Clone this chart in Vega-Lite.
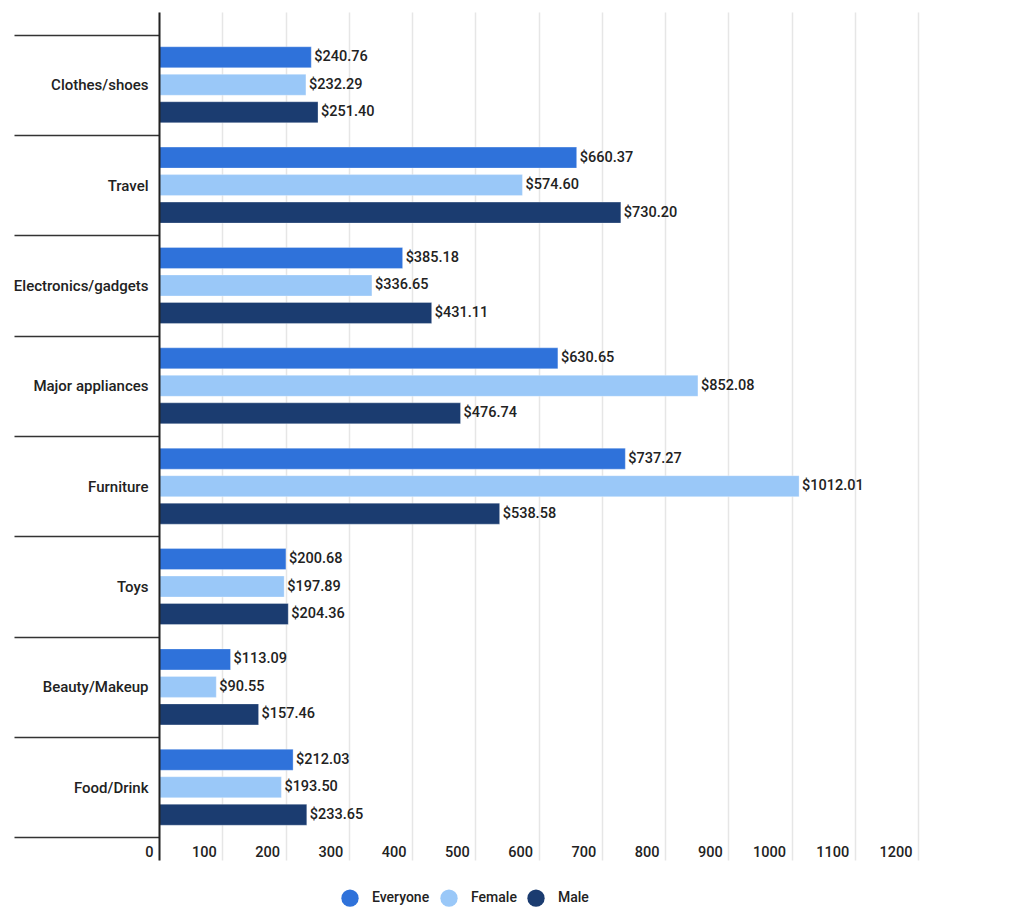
{
  "$schema": "https://vega.github.io/schema/vega-lite/v6.json",
  "autosize": {"type": "none"},
  "padding": {"left": 159, "top": 12, "right": 106, "bottom": 60},
  "width": 759,
  "height": 848,
  "background": "white",
  "config": {
    "view": {"stroke": null},
    "font": "Roboto"
  },
  "data": {
    "values": [
      {"category": "Clothes/shoes", "group": "Everyone", "value": 240.76},
      {"category": "Clothes/shoes", "group": "Female", "value": 232.29},
      {"category": "Clothes/shoes", "group": "Male", "value": 251.40},
      {"category": "Travel", "group": "Everyone", "value": 660.37},
      {"category": "Travel", "group": "Female", "value": 574.60},
      {"category": "Travel", "group": "Male", "value": 730.20},
      {"category": "Electronics/gadgets", "group": "Everyone", "value": 385.18},
      {"category": "Electronics/gadgets", "group": "Female", "value": 336.65},
      {"category": "Electronics/gadgets", "group": "Male", "value": 431.11},
      {"category": "Major appliances", "group": "Everyone", "value": 630.65},
      {"category": "Major appliances", "group": "Female", "value": 852.08},
      {"category": "Major appliances", "group": "Male", "value": 476.74},
      {"category": "Furniture", "group": "Everyone", "value": 737.27},
      {"category": "Furniture", "group": "Female", "value": 1012.01},
      {"category": "Furniture", "group": "Male", "value": 538.58},
      {"category": "Toys", "group": "Everyone", "value": 200.68},
      {"category": "Toys", "group": "Female", "value": 197.89},
      {"category": "Toys", "group": "Male", "value": 204.36},
      {"category": "Beauty/Makeup", "group": "Everyone", "value": 113.09},
      {"category": "Beauty/Makeup", "group": "Female", "value": 90.55},
      {"category": "Beauty/Makeup", "group": "Male", "value": 157.46},
      {"category": "Food/Drink", "group": "Everyone", "value": 212.03},
      {"category": "Food/Drink", "group": "Female", "value": 193.50},
      {"category": "Food/Drink", "group": "Male", "value": 233.65}
    ]
  },
  "encoding": {
    "y": {
      "field": "category",
      "type": "nominal",
      "sort": null,
      "scale": {"paddingInner": 0, "paddingOuter": 0.225},
      "axis": {
        "title": null,
        "domain": true,
        "domainColor": "#222222",
        "domainWidth": 2,
        "ticks": true,
        "tickBand": "extent",
        "tickSize": 145,
        "tickColor": "#333333",
        "tickWidth": 1.5,
        "labelPadding": -134,
        "labelFont": "Roboto",
        "labelFontSize": 15,
        "labelFontWeight": 500,
        "labelColor": "#222222",
        "zindex": 2
      }
    },
    "yOffset": {
      "field": "group",
      "type": "nominal",
      "sort": ["Everyone", "Female", "Male"],
      "scale": {"paddingInner": 0.236, "paddingOuter": 0.443}
    },
    "x": {
      "field": "value",
      "type": "quantitative",
      "scale": {"domain": [0, 1200], "nice": false},
      "axis": {
        "title": null,
        "values": [0, 100, 200, 300, 400, 500, 600, 700, 800, 900, 1000, 1100, 1200],
        "format": "d",
        "grid": true,
        "gridColor": "#e6e6e6",
        "gridWidth": 1.5,
        "domain": false,
        "ticks": false,
        "labelAlign": "right",
        "labelOffset": -6,
        "labelBaseline": "top",
        "labelPadding": -15,
        "labelFont": "Roboto",
        "labelFontSize": 14.5,
        "labelFontWeight": 500,
        "labelColor": "#222222",
        "zindex": 0
      }
    }
  },
  "layer": [
    {
      "mark": {"type": "bar", "stroke": "#ffffff", "strokeOpacity": 0.3, "strokeWidth": 1},
      "encoding": {
        "color": {
          "field": "group",
          "type": "nominal",
          "sort": ["Everyone", "Female", "Male"],
          "scale": {
            "domain": ["Everyone", "Female", "Male"],
            "range": ["#2f72da", "#9ac8f8", "#1b3c70"]
          },
          "legend": {
            "title": null,
            "orient": "none",
            "direction": "horizontal",
            "legendX": 182,
            "legendY": 877,
            "symbolType": "circle",
            "symbolSize": 300,
            "symbolStrokeWidth": 0,
            "labelFont": "Roboto",
            "labelFontSize": 14,
            "labelFontWeight": 500,
            "labelColor": "#222222",
            "labelOffset": 13,
            "columnPadding": 10
          }
        }
      }
    },
    {
      "mark": {
        "type": "text",
        "align": "left",
        "baseline": "middle",
        "dx": 3,
        "font": "Roboto",
        "fontSize": 14.5,
        "fontWeight": 500,
        "color": "#222222"
      },
      "encoding": {
        "text": {"field": "value", "type": "quantitative", "format": "$.2f"}
      }
    }
  ]
}
